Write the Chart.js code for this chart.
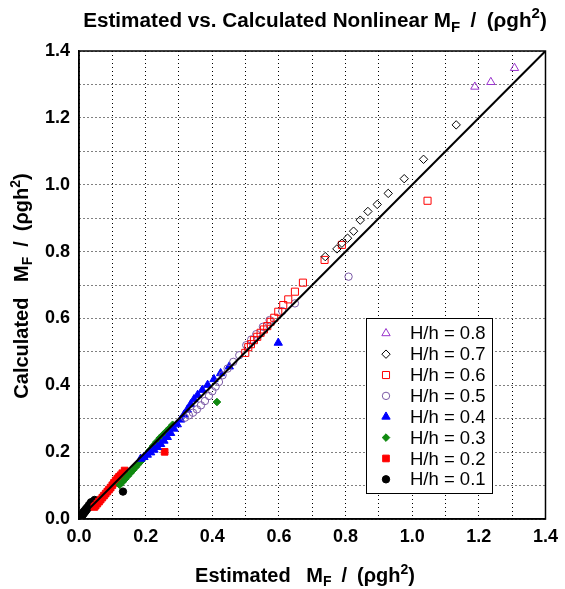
<!DOCTYPE html>
<html>
<head>
<meta charset="utf-8">
<script src="https://cdn.jsdelivr.net/npm/chart.js@4.4.0/dist/chart.umd.min.js"></script>
<style>
  html, body { margin: 0; padding: 0; background: #fff; }
  #wrap { width: 565px; height: 589px; }
</style>
</head>
<body>
<div id="wrap"><canvas id="chart" width="565" height="589"></canvas></div>
<script>
/* Estimated vs. calculated nonlinear MF / (rho g h^2), one series per H/h */

// axis ticks: grid every 0.1, labels every 0.2
const gridValues = [0, 0.1, 0.2, 0.3, 0.4, 0.5, 0.6, 0.7, 0.8, 0.9, 1.0, 1.1, 1.2, 1.3, 1.4];
const tickLabels = ['0.0', '', '0.2', '', '0.4', '', '0.6', '', '0.8', '', '1.0', '', '1.2', '', '1.4'];

// 1:1 reference line
const lineX = [0, 1.4];
const lineY = [0, 1.4];

const seriesLabels = ['H/h = 0.8', 'H/h = 0.7', 'H/h = 0.6', 'H/h = 0.5', 'H/h = 0.4', 'H/h = 0.3', 'H/h = 0.2', 'H/h = 0.1'];

const est08 = [1.188, 1.236, 1.307];
const calc08 = [1.293, 1.307, 1.349];

const est07 = [0.739, 0.774, 0.789, 0.806, 0.824, 0.844, 0.867, 0.895, 0.928, 0.976, 1.034, 1.132];
const calc07 = [0.785, 0.808, 0.825, 0.840, 0.861, 0.894, 0.920, 0.941, 0.974, 1.018, 1.076, 1.179];

const est06 = [0.499, 0.508, 0.516, 0.525, 0.535, 0.545, 0.555, 0.565, 0.575, 0.586, 0.598, 0.613, 0.628, 0.648, 0.672, 0.737, 0.789, 1.046];
const calc06 = [0.497, 0.514, 0.523, 0.535, 0.545, 0.557, 0.567, 0.577, 0.590, 0.602, 0.620, 0.640, 0.657, 0.680, 0.707, 0.775, 0.820, 0.952];

const est05 = [0.318, 0.330, 0.342, 0.354, 0.366, 0.378, 0.390, 0.400, 0.410, 0.420, 0.431, 0.446, 0.463, 0.481, 0.502, 0.517, 0.532, 0.552, 0.572, 0.610, 0.648, 0.809];
const calc05 = [0.303, 0.310, 0.318, 0.328, 0.340, 0.353, 0.368, 0.382, 0.396, 0.410, 0.430, 0.450, 0.470, 0.490, 0.520, 0.537, 0.553, 0.575, 0.595, 0.622, 0.645, 0.725];

const est04 = [0.185, 0.195, 0.205, 0.215, 0.225, 0.235, 0.245, 0.255, 0.265, 0.275, 0.285, 0.295, 0.305, 0.315, 0.325, 0.335, 0.345, 0.356, 0.370, 0.386, 0.405, 0.425, 0.451, 0.598];
const calc04 = [0.180, 0.185, 0.192, 0.199, 0.207, 0.215, 0.224, 0.234, 0.245, 0.257, 0.270, 0.283, 0.297, 0.312, 0.327, 0.343, 0.358, 0.371, 0.386, 0.401, 0.418, 0.436, 0.456, 0.527];

const est03 = [0.122, 0.130, 0.138, 0.146, 0.154, 0.162, 0.170, 0.178, 0.186, 0.194, 0.202, 0.212, 0.222, 0.232, 0.242, 0.252, 0.262, 0.272, 0.281, 0.414];
const calc03 = [0.102, 0.110, 0.119, 0.128, 0.137, 0.146, 0.155, 0.164, 0.173, 0.182, 0.192, 0.205, 0.218, 0.230, 0.242, 0.252, 0.262, 0.272, 0.282, 0.350];

const est02 = [0.046, 0.050, 0.055, 0.060, 0.065, 0.070, 0.075, 0.080, 0.085, 0.090, 0.095, 0.100, 0.105, 0.110, 0.115, 0.120, 0.125, 0.130, 0.137, 0.257];
const calc02 = [0.036, 0.040, 0.046, 0.052, 0.058, 0.064, 0.070, 0.076, 0.082, 0.088, 0.094, 0.101, 0.108, 0.115, 0.121, 0.126, 0.131, 0.137, 0.145, 0.201];

const est01 = [0.002, 0.005, 0.008, 0.011, 0.014, 0.017, 0.020, 0.023, 0.026, 0.029, 0.032, 0.035, 0.038, 0.041, 0.044, 0.047, 0.004, 0.009, 0.014, 0.019, 0.024, 0.030, 0.036, 0.132];
const calc01 = [0.001, 0.004, 0.008, 0.012, 0.016, 0.020, 0.024, 0.028, 0.032, 0.036, 0.040, 0.043, 0.046, 0.049, 0.053, 0.057, 0.008, 0.015, 0.022, 0.028, 0.034, 0.042, 0.050, 0.082];

const FONT = '"Liberation Sans", Arial, Helvetica, sans-serif';

function toPoints(xs, ys) {
  return xs.map((x, i) => ({ x, y: ys[i] }));
}

// marker look per series (same order as seriesLabels)
const markers = [
  { data: toPoints(est08, calc08), style: 'triangle', color: '#9933cc', filled: false, r: 4.8 },
  { data: toPoints(est07, calc07), style: 'rectRot',  color: '#000000', filled: false, r: 4.2 },
  { data: toPoints(est06, calc06), style: 'rect',     color: '#ff0000', filled: false, r: 5.0 },
  { data: toPoints(est05, calc05), style: 'circle',   color: '#7b5aa6', filled: false, r: 3.7 },
  { data: toPoints(est04, calc04), style: 'triangle', color: '#0000ff', filled: true,  r: 4.8 },
  { data: toPoints(est03, calc03), style: 'rectRot',  color: '#108a10', filled: true,  r: 3.8 },
  { data: toPoints(est02, calc02), style: 'rect',     color: '#ff0000', filled: true,  r: 4.7 },
  { data: toPoints(est01, calc01), style: 'circle',   color: '#000000', filled: true,  r: 3.7 },
];

const datasets = [{
  type: 'line',
  label: '',
  data: toPoints(lineX, lineY),
  borderColor: '#000',
  borderWidth: 2,
  pointRadius: 0,
  fill: false,
  order: 0,
}];

markers.forEach((m, i) => {
  datasets.push({
    type: 'scatter',
    label: seriesLabels[i],
    data: m.data,
    pointStyle: m.style,
    pointRadius: m.r,
    pointHoverRadius: m.r,
    pointBorderWidth: 1,
    borderColor: m.color,
    backgroundColor: m.filled ? m.color : 'rgba(0,0,0,0)',
    order: i + 1,
  });
});

// text with sub/superscripts, drawn straight on the canvas
function drawRich(ctx, parts, x, y, size, rotate) {
  ctx.save();
  ctx.translate(x, y);
  if (rotate) ctx.rotate(-Math.PI / 2);
  const fontFor = (p) => `bold ${(p.sub || p.sup) ? Math.round(size * 0.72) : size}px ${FONT}`;
  let total = 0;
  parts.forEach((p) => { ctx.font = fontFor(p); total += ctx.measureText(p.t).width; });
  let cx = -total / 2;
  ctx.fillStyle = '#000';
  ctx.textAlign = 'left';
  ctx.textBaseline = 'alphabetic';
  parts.forEach((p) => {
    ctx.font = fontFor(p);
    const dy = p.sub ? size * 0.22 : p.sup ? -size * 0.42 : 0;
    ctx.fillText(p.t, cx, dy);
    cx += ctx.measureText(p.t).width;
  });
  ctx.restore();
}

// "MF / (rho g h^2)" with en spaces round the slash, as in the original
const unitParts = [{ t: 'M' }, { t: 'F', sub: true }, { t: '\u2002/\u2002(\u03c1gh' }, { t: '2', sup: true }, { t: ')' }];

const decorPlugin = {
  id: 'decor',
  afterDraw(chart) {
    const { ctx, chartArea: a } = chart;

    // frame on top and right
    ctx.save();
    ctx.strokeStyle = '#000';
    ctx.lineWidth = 1.5;
    ctx.strokeRect(a.left, a.top, a.right - a.left, a.bottom - a.top);
    ctx.restore();

    // titles
    drawRich(ctx, [{ t: 'Estimated vs. Calculated Nonlinear M' }, { t: 'F', sub: true }, { t: '\u2002/\u2002(\u03c1gh' }, { t: '2', sup: true }, { t: ')' }], 315, 27, 20.7, false);
    drawRich(ctx, [{ t: 'Estimated\u2002 ' }].concat(unitParts), 305, 582, 20, false);
    drawRich(ctx, [{ t: 'Calculated\u2002 ' }].concat(unitParts), 28, 286, 20, true);

    // legend box inside the plot
    const box = { x: 366, y: 318, w: 126, h: 175 };
    ctx.save();
    ctx.fillStyle = '#fff';
    ctx.fillRect(box.x, box.y, box.w, box.h);
    ctx.strokeStyle = '#000';
    ctx.lineWidth = 1;
    ctx.strokeRect(box.x + 0.5, box.y + 0.5, box.w, box.h);
    ctx.restore();

    const rowH = 20.86;
    chart.data.datasets.forEach((ds, i) => {
      if (!ds.label) return;
      const row = i - 1;
      const cy = 333.3 + row * rowH;
      ctx.save();
      ctx.fillStyle = ds.backgroundColor;
      ctx.strokeStyle = ds.borderColor;
      ctx.lineWidth = 1;
      Chart.helpers.drawPoint(ctx, { pointStyle: ds.pointStyle, radius: ds.pointRadius, borderWidth: 1, rotation: 0 }, 386, cy);
      ctx.fillStyle = '#000';
      ctx.font = `18.5px ${FONT}`;
      ctx.textAlign = 'left';
      ctx.textBaseline = 'middle';
      ctx.fillText(ds.label, 410, cy + 1);
      ctx.restore();
    });
  },
};

function axis(pos) {
  return {
    type: 'linear',
    position: pos,
    min: 0,
    max: 1.4,
    afterBuildTicks: (scale) => { scale.ticks = gridValues.map((v) => ({ value: v })); },
    afterFit: (scale) => {
      if (pos === 'left') scale.width = 79;
      else scale.height = 70;
    },
    grid: { color: '#000', lineWidth: 1, drawTicks: false },
    border: { display: true, color: '#000', width: 1.5, dash: [1, 3] },
    ticks: {
      autoSkip: false,
      maxRotation: 0,
      padding: pos === 'left' ? 9 : 7,
      color: '#000',
      font: { family: FONT, size: 18, weight: 'bold' },
      callback: (val, idx) => tickLabels[idx],
    },
  };
}

new Chart(document.getElementById('chart'), {
  type: 'scatter',
  data: { datasets },
  options: {
    responsive: false,
    animation: false,
    layout: { padding: { left: 0, right: 17, top: 51, bottom: 0 } },
    plugins: {
      legend: { display: false },
      title: { display: false },
      tooltip: { enabled: false },
    },
    scales: { x: axis('bottom'), y: axis('left') },
  },
  plugins: [decorPlugin],
});
</script>
</body>
</html>
